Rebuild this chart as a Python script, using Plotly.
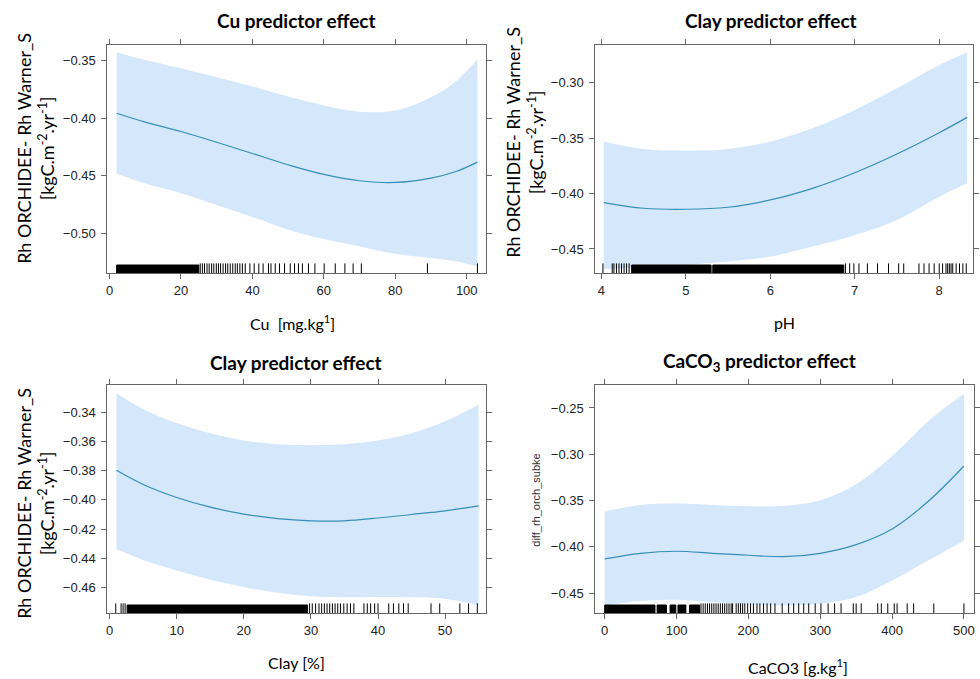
import plotly.graph_objects as go

# ---------------- data ----------------
# Panel 1: Cu
cu_x = [2, 10, 20, 30, 40, 50, 60, 70, 80, 90, 97, 103]
cu_fit = [-0.3958, -0.4035, -0.4117, -0.4210, -0.4308, -0.4406, -0.4490, -0.4545, -0.4560, -0.4522, -0.4465, -0.4383]
cu_upper = [-0.3430, -0.3495, -0.3567, -0.3645, -0.3725, -0.3813, -0.3890, -0.3945, -0.3935, -0.3820, -0.3680, -0.3488]
cu_lower = [-0.4485, -0.4570, -0.4653, -0.4755, -0.4860, -0.4971, -0.5052, -0.5116, -0.5180, -0.5217, -0.5245, -0.5290]
cu_rug_dense = [[2, 25]]
cu_rug = [25.4, 26.0, 26.6, 27.3, 27.9, 28.6, 29.2, 29.9, 30.5, 31.1, 31.8, 32.5, 33.1, 33.8,
          34.5, 35.2, 35.8, 36.5, 37.2, 38.0, 39.3, 40.5, 41.8, 43.0, 44.5, 45.2, 46.4, 47.6,
          49.0, 50.6, 51.8, 52.9, 54.0, 55.7, 57.5, 60.1, 63.2, 65.9, 68.2, 70.5, 89.0, 103.0]

# Panel 2: pH
ph_x = [4.03, 4.5, 5.0, 5.5, 6.0, 6.5, 7.0, 7.5, 8.0, 8.33]
ph_fit = [-0.4082, -0.4133, -0.4142, -0.4124, -0.4058, -0.3953, -0.3812, -0.3643, -0.3451, -0.3313]
ph_upper = [-0.3532, -0.3598, -0.3613, -0.3598, -0.3532, -0.3412, -0.3246, -0.3051, -0.2841, -0.2726]
ph_lower = [-0.4680, -0.4665, -0.4644, -0.4614, -0.4569, -0.4479, -0.4374, -0.4238, -0.4028, -0.3908]
ph_rug_dense = [[4.36, 5.30], [5.32, 6.87]]
ph_rug = [4.02, 4.13, 4.15, 4.18, 4.21, 4.24, 4.27, 4.30, 4.33, 6.89, 6.94, 6.99, 7.05, 7.15,
          7.27, 7.40, 7.52, 7.58, 7.76, 7.82, 7.88, 7.94, 8.00, 8.04, 8.08, 8.10, 8.12, 8.14,
          8.16, 8.20, 8.24, 8.28, 8.32]

# Panel 3: Clay
clay_x = [1, 5, 10, 15, 20, 25, 30, 35, 40, 45, 50, 55]
clay_fit = [-0.3798, -0.3895, -0.3984, -0.4050, -0.4097, -0.4128, -0.4143, -0.4143, -0.4124, -0.4100, -0.4075, -0.4041]
clay_upper = [-0.3271, -0.3380, -0.3475, -0.3545, -0.3595, -0.3620, -0.3626, -0.3620, -0.3595, -0.3545, -0.3463, -0.3350]
clay_lower = [-0.4335, -0.4410, -0.4482, -0.4545, -0.4595, -0.4635, -0.4659, -0.4665, -0.4663, -0.4665, -0.4675, -0.4720]
clay_rug_dense = [[2.6, 29.5]]
clay_rug = [0.9, 1.7, 2.0, 2.3, 29.8, 30.2, 30.7, 31.2, 31.6, 32.0, 32.4, 32.8, 33.2, 33.6,
            34.0, 34.4, 34.9, 35.4, 35.9, 36.4, 37.9, 38.4, 38.9, 39.5, 40.0, 41.6, 42.3,
            43.1, 43.8, 44.5, 47.9, 49.2, 52.2, 53.5, 54.8]

# Panel 4: CaCO3
caco3_x = [0, 50, 100, 150, 200, 250, 300, 350, 400, 450, 500]
caco3_fit = [-0.4131, -0.4070, -0.4048, -0.4070, -0.4091, -0.4106, -0.4070, -0.3977, -0.3808, -0.3511, -0.3127]
caco3_upper = [-0.3618, -0.3547, -0.3532, -0.3547, -0.3561, -0.3557, -0.3496, -0.3324, -0.3020, -0.2643, -0.2350]
caco3_lower = [-0.4633, -0.4586, -0.4572, -0.4597, -0.4622, -0.4633, -0.4615, -0.4543, -0.4364, -0.4149, -0.3934]
caco3_rug_dense = [[0, 70], [73, 86], [91, 99], [102, 113], [118, 132]]
caco3_rug = [134, 137, 140, 143, 146, 149, 152, 155, 158, 161, 164, 167, 170, 173, 176, 178,
             183, 186, 189, 192, 195, 199, 203, 207, 212, 216, 221, 226, 231, 237, 247, 256,
             263, 270, 277, 284, 293, 301, 311, 320, 329, 346, 350, 357, 380, 385, 394, 403,
             407, 421, 430, 458, 500]

# tick values
cu_xticks = [0, 20, 40, 60, 80, 100]
cu_yticks = [-0.35, -0.40, -0.45, -0.50]
ph_xticks = [4, 5, 6, 7, 8]
ph_yticks = [-0.30, -0.35, -0.40, -0.45]
clay_xticks = [0, 10, 20, 30, 40, 50]
clay_yticks = [-0.34, -0.36, -0.38, -0.40, -0.42, -0.44, -0.46]
caco3_xticks = [0, 100, 200, 300, 400, 500]
caco3_yticks = [-0.25, -0.30, -0.35, -0.40, -0.45]

titles = ["<b>Cu predictor effect</b>", "<b>Clay predictor effect</b>",
          "<b>Clay predictor effect</b>", "<b>CaCO<sub>3</sub> predictor effect</b>"]
xtitles = ["Cu  [mg.kg<sup>1</sup>]", "pH", "Clay [%]", "CaCO3 [g.kg<sup>1</sup>]"]
ytitle_main = "Rh ORCHIDEE- Rh Warner_S<br>[kgC.m<sup>-2</sup>.yr<sup>-1</sup>]"
ytitle_small = "diff_rh_orch_subke"

# ---------------- styling ----------------
W, H = 980, 679
BAND = "rgb(213,231,250)"
LINE = "rgb(52,143,184)"
AXC = "#666666"
TICKFONT = dict(family="Liberation Sans, Arial", size=13, color="#222222")
LATO = "Lato, Calibri, Carlito, sans-serif"

# panel boxes in pixels: left, right, top, bottom
boxes = [(107, 488, 45, 273), (598, 978, 45, 273), (107, 488, 385, 613), (598, 979, 385, 613)]
xranges = [(-0.6, 105.4), (3.93, 8.40), (-0.35, 56.1), (-13, 514)]
yranges = [(-0.5347, -0.3365), (-0.4717, -0.2660), (-0.4773, -0.3215), (-0.4715, -0.2252)]
title_pos = [(297, 20), (775, 20), (297, 362), (763, 362)]
xtitle_pos = [(293, 322), (788, 322), (297, 662), (802, 666)]

panels = [
    (cu_x, cu_fit, cu_upper, cu_lower, cu_rug, cu_rug_dense, cu_xticks, cu_yticks),
    (ph_x, ph_fit, ph_upper, ph_lower, ph_rug, ph_rug_dense, ph_xticks, ph_yticks),
    (clay_x, clay_fit, clay_upper, clay_lower, clay_rug, clay_rug_dense, clay_xticks, clay_yticks),
    (caco3_x, caco3_fit, caco3_upper, caco3_lower, caco3_rug, caco3_rug_dense, caco3_xticks, caco3_yticks),
]

fig = go.Figure()
layout = dict(width=W, height=H, margin=dict(l=0, r=0, t=0, b=0),
              paper_bgcolor="white", plot_bgcolor="white", showlegend=False)
annotations = []

RUG_H = 8  # px


def px_x(p):
    return p / W


def px_y(p):
    return 1 - p / H


for i, (xs, fit, up, lo, rug, dense, xt, yt) in enumerate(panels):
    n = i + 1
    xa = "x" if n == 1 else f"x{n}"
    ya = "y" if n == 1 else f"y{n}"
    ra = f"y{n + 4}"
    l, r, t, b = boxes[i]
    # band: lower edge then upper edge filled to it
    fig.add_trace(go.Scatter(x=xs, y=lo, mode="lines",
                             line=dict(width=0, color=BAND, shape="spline"),
                             hoverinfo="skip", xaxis=xa, yaxis=ya))
    fig.add_trace(go.Scatter(x=xs, y=up, mode="lines", fill="tonexty",
                             fillcolor=BAND, line=dict(width=0, color=BAND, shape="spline"),
                             hoverinfo="skip", xaxis=xa, yaxis=ya))
    # fit line
    fig.add_trace(go.Scatter(x=xs, y=fit, mode="lines",
                             line=dict(color=LINE, width=1.2, shape="spline"),
                             xaxis=xa, yaxis=ya))
    # rug (overlay axis with 0..1 range)
    rh = RUG_H / (b - t)
    for a, c in dense:
        fig.add_trace(go.Scatter(x=[a, c, c, a, a], y=[0, 0, rh, rh, 0], fill="toself",
                                 fillcolor="black", line=dict(color="black", width=1),
                                 mode="lines", xaxis=xa, yaxis=ra))
    fig.add_trace(go.Scatter(x=rug, y=[rh / 2] * len(rug), mode="markers",
                             marker=dict(symbol="line-ns", size=RUG_H,
                                         line=dict(color="black", width=1)),
                             xaxis=xa, yaxis=ra))

    xdom = [px_x(l), px_x(r)]
    ydom = [px_y(b), px_y(t)]
    layout["xaxis" if n == 1 else f"xaxis{n}"] = dict(
        domain=xdom, range=list(xranges[i]), anchor=ya, tickvals=xt,
        showline=True, linecolor=AXC, linewidth=1, mirror="allticks",
        ticks="outside", ticklen=5, tickcolor=AXC, showgrid=False, zeroline=False,
        tickfont=TICKFONT)
    layout["yaxis" if n == 1 else f"yaxis{n}"] = dict(
        domain=ydom, range=list(yranges[i]), anchor=xa, tickvals=yt, tickformat=".2f",
        showline=True, linecolor=AXC, linewidth=1, mirror="allticks",
        ticks="outside", ticklen=5, tickcolor=AXC, showgrid=False, zeroline=False,
        tickfont=TICKFONT, ticklabelstandoff=3)
    layout[f"yaxis{n + 4}"] = dict(overlaying=ya, range=[0, 1], visible=False,
                                   anchor=xa)

    tx, ty = title_pos[i]
    annotations.append(dict(text=titles[i], x=px_x(tx), y=px_y(ty),
                            xref="paper", yref="paper", showarrow=False,
                            font=dict(family=LATO, size=19, color="black"),
                            xanchor="center", yanchor="middle"))
    ax_, ay_ = xtitle_pos[i]
    annotations.append(dict(text=xtitles[i], x=px_x(ax_), y=px_y(ay_),
                            xref="paper", yref="paper", showarrow=False,
                            font=dict(family=LATO, size=16, color="black"),
                            xanchor="center", yanchor="middle"))

# y titles
for (yx, yy) in [(34, 148), (526, 142), (34, 503)]:
    annotations.append(dict(text=ytitle_main, x=px_x(yx), y=px_y(yy), xref="paper", yref="paper",
                            showarrow=False, textangle=-90,
                            font=dict(family=LATO, size=18, color="black"),
                            xanchor="center", yanchor="middle"))
annotations.append(dict(text=ytitle_small, x=px_x(538), y=px_y(500), xref="paper", yref="paper",
                        showarrow=False, textangle=-90,
                        font=dict(family="Liberation Sans, Arial", size=11, color="#333333"),
                        xanchor="center", yanchor="middle"))

layout["annotations"] = annotations
fig.update_layout(**layout)
fig.write_html("out.html", config={"displayModeBar": False},
               post_script="document.body.style.margin='0';document.body.style.overflow='hidden';")
